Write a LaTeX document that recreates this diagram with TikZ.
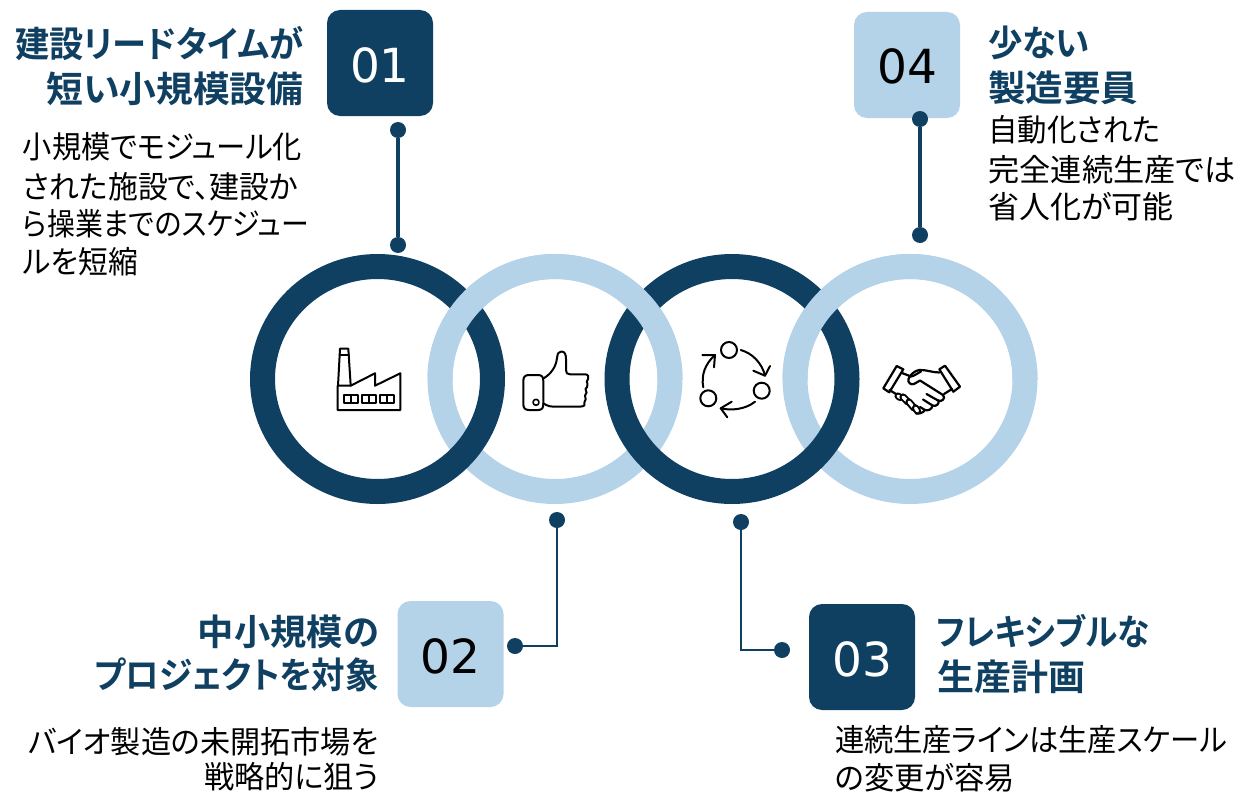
\documentclass[tikz,border=0pt]{standalone}
\usepackage{fontspec}
\usepackage{graphicx}
\usetikzlibrary{shapes.geometric}
\newfontfamily\jp{Noto Sans CJK JP}[RawFeature=+palt]
\newfontfamily\jpb{Noto Sans CJK JP Bold}[RawFeature=+palt]
\newfontfamily\numf{DejaVu Sans}
\definecolor{navy}{HTML}{0F3F61}
\definecolor{pale}{HTML}{B4D2E8}
\newcommand{\fitw}[2]{\resizebox{#1pt}{\height}{\rule[-.12em]{0pt}{1em}#2}}
\tikzset{
  ringbase/.style={ellipse,draw,line width=25pt,minimum width=230pt,minimum height=225pt,inner sep=0pt,outer sep=0pt},
  ringdark/.style={ringbase,draw=navy},
  ringpale/.style={ringbase,draw=pale},
  numbox/.style={rectangle,rounded corners=13pt,minimum width=106pt,minimum height=106pt,inner sep=0pt,outer sep=0pt,
    font=\fontsize{47pt}{47pt}\selectfont\numf,text height=38pt,text depth=0pt},
  numdark/.style={numbox,fill=navy,text=white},
  numpale/.style={numbox,fill=pale,text=black},
  dot/.style={circle,fill=navy,minimum size=16pt,inner sep=0pt,outer sep=0pt},
  link/.style={draw=navy,line width=3.2pt},
  elbow/.style={draw=navy,line width=2.5pt},
  head/.style={inner sep=0pt,outer sep=0pt,text=navy,font=\fontsize{36pt}{36pt}\selectfont\jpb},
  body/.style={inner sep=0pt,outer sep=0pt,text=black,font=\fontsize{31pt}{31pt}\selectfont\jp},
  icon/.style={draw=black,line width=2pt,line join=round,line cap=round},
}
\begin{document}
\begin{tikzpicture}[x=1pt,y=-1pt]
\useasboundingbox (0,0) rectangle (1236,792);
% rings
\node[ringpale] (r2) at (555,379) {};
\node[ringpale] (r4) at (910,379) {};
\node[ringdark] (r1) at (377.5,379) {};
\node[ringdark] (r3) at (732,379) {};
\begin{scope}
  \clip (0,0) rectangle (1236,379);
  \draw[draw=pale,line width=25pt] (r2.center) ellipse[x radius=115,y radius=112.5];
  \draw[draw=pale,line width=25pt] (r4.center) ellipse[x radius=115,y radius=112.5];
\end{scope}
% number boxes
\node[numdark] (b1) at (380,63) {01};
\node[numpale] (b2) at (450.5,654) {02};
\node[numdark] (b3) at (862,657) {03};
\node[numpale] (b4) at (907,65) {04};
% connectors
\node[dot] (d1a) at (398,130) {};
\node[dot] (d1b) at (398,245) {};
\node[dot] (d4a) at (920,119) {};
\node[dot] (d4b) at (920,235) {};
\node[dot] (d2a) at (557,520) {};
\node[dot] (d2b) at (515,646) {};
\node[dot] (d3a) at (741,522) {};
\node[dot] (d3b) at (782,650) {};
\draw[link] (d1a) -- (d1b);
\draw[link] (d4a) -- (d4b);
\draw[elbow] (d2a.center) |- (d2b.center);
\draw[elbow] (d3a.center) |- (d3b.center);
% headings
\node[head] (h1a) at (159.5,44) {\fitw{288}{建設リードタイムが}};
\node[head] (h1b) at (175,89) {\fitw{257}{短い小規模設備}};
\node[head] (h2a) at (288.5,632) {\fitw{181}{中小規模の}};
\node[head] (h2b) at (236.5,675) {\fitw{285}{プロジェクトを対象}};
\node[head] (h3a) at (1043,632) {\fitw{213}{フレキシブルな}};
\node[head] (h3b) at (1011,677) {\fitw{148}{生産計画}};
\node[head] (h4a) at (1039,43) {\fitw{102}{少ない}};
\node[head] (h4b) at (1063,88) {\fitw{150}{製造要員}};
% body text
\node[body] (t1a) at (162.5,147) {\fitw{279}{小規模でモジュール化}};
\node[body] (t1b) at (160.5,187) {\fitw{275}{された施設で、建設か}};
\node[body] (t1c) at (166,224) {\fitw{286}{ら操業までのスケジュー}};
\node[body] (t1d) at (80.5,262) {\fitw{115}{ルを短縮}};
\node[body] (t2a) at (203.5,742) {\fitw{351}{バイオ製造の未開拓市場を}};
\node[body] (t2b) at (291.5,777) {\fitw{175}{戦略的に狙う}};
\node[body] (t3a) at (1031,740) {\fitw{392}{連続生産ラインは生産スケール}};
\node[body] (t3b) at (925,778) {\fitw{180}{の変更が容易}};
\node[body] (t4a) at (1074.5,130) {\fitw{172}{自動化された}};
\node[body] (t4b) at (1112,170) {\fitw{247}{完全連続生産では}};
\node[body] (t4c) at (1081,207) {\fitw{185}{省人化が可能}};
% factory icon
\draw[icon] (337.7,385.7) -- (350.7,385.7) -- (375,373.3) -- (375,385.7) -- (400.3,373.3) -- (400.3,410) -- (337.7,410) -- cycle;
\draw[icon] (338,385.7) -- (340,348.7) -- (348.3,348.7) -- (350.7,385.7);
\draw[icon] (339.5,355) -- (349,355);
\foreach \wx in {343.7,362,380}{
  \draw[icon,line width=1.6pt] (\wx,395) rectangle ++(14,8);
  \draw[icon,line width=1.6pt] (\wx+7,395) -- (\wx+7,403);
}
% thumb icon
\draw[icon] (523.3,381) .. controls (523.3,377) and (525,375) .. (529,375) -- (538,375) .. controls (542,375) and (543.3,377) .. (543.3,381) -- (543.3,404) .. controls (543.3,408) and (542,410) .. (538,410) -- (529,410) .. controls (525,410) and (523.3,408) .. (523.3,404) -- cycle;
\draw[icon,line width=1.6pt] (536,402.3) circle[radius=3];
\draw[icon] (543.3,378.5) .. controls (551,374) and (556,367) .. (557,358) .. controls (557.5,353) and (559,351.5) .. (561.5,351.5) .. controls (565,351.5) and (566,355) .. (566,359) -- (566,370) .. controls (566,373) and (567,374.3) .. (570,374.3) -- (585,374.3) .. controls (588.5,374.3) and (589,377) .. (588,379) .. controls (586.5,381) and (586.5,382) .. (587.5,384) .. controls (588.5,386) and (586,388.5) .. (585.5,389) .. controls (587.5,391) and (586.5,394.5) .. (585,395.5) .. controls (586.5,398) and (585.5,401) .. (584.5,402) .. controls (585.5,404.5) and (584.5,406.5) .. (581,406.5) -- (552,406.5) .. controls (548,406.5) and (546,404.5) .. (543.3,403.5);
% cycle icon
\coordinate (c1) at (729,350);
\coordinate (c2) at (761.7,390.7);
\coordinate (c3) at (708.3,398.3);
\draw[icon] (c1) circle[radius=8];
\draw[icon] (c2) circle[radius=8];
\draw[icon] (c3) circle[radius=8];
\draw[icon] (740.7,350) .. controls (752,353) and (762,363) .. (765,375.7);
\draw[icon] (753.3,370.7) -- (765,375.7) -- (770,366);
\draw[icon] (755,401.7) .. controls (746,409) and (732,411) .. (720.7,408.3);
\draw[icon] (731.7,401.7) -- (720.7,408.3) -- (727.3,417.3);
\draw[icon] (703.3,387.3) .. controls (701,375) and (705,364) .. (715,355);
\draw[icon] (702.3,355) -- (715,355) -- (714,367.3);
% handshake icon
\draw[icon,fill=white,line width=2.2pt] (896.7,366) -- (903.3,369.3) -- (889.3,392.3) -- (883.3,388.3) -- cycle;
\draw[icon,fill=white,line width=2.2pt] (945,365.7) -- (939.3,369.3) -- (953.3,391.7) -- (960,386.7) -- cycle;
\draw[icon,line width=2.2pt] (902,373) -- (911,376.5) .. controls (914,376) and (918,373) .. (921,371.5);
\draw[icon,line width=2.2pt] (939.3,372.5) .. controls (932,372.5) and (926,369.5) .. (919,370) .. controls (914,371) and (910,375) .. (908.5,379) .. controls (907.5,383) and (911,385) .. (914,384) -- (920,380.5) -- (943,395) .. controls (946,398) and (942,402.5) .. (938,400.5) -- (926.5,394);
\draw[icon,line width=2.2pt] (952,389) -- (944,394);
\draw[icon,line width=2.2pt] (938.5,400.5) .. controls (939.5,404) and (936,407) .. (932.5,405.5) -- (923,399.5);
\draw[icon,line width=2.2pt] (932.5,405.5) .. controls (932,409.5) and (928,411) .. (925,410) -- (920,407);
\draw[icon,line width=2.2pt] (925,410) .. controls (923,413) and (919,414) .. (916,413.5);
\draw[icon,line width=2.2pt] (889.5,390) -- (896,394);
\foreach \xa/\ya/\xb/\yb in {898/396/900/397.5, 903/397/908/402, 909/402/914/408, 915.5/408/917.5/411}{
  \draw[line width=7.2pt,line cap=round,draw=black] (\xa,\ya) -- (\xb,\yb);
  \draw[line width=3.2pt,line cap=round,draw=white] (\xa,\ya) -- (\xb,\yb);
}
\end{tikzpicture}
\end{document}
